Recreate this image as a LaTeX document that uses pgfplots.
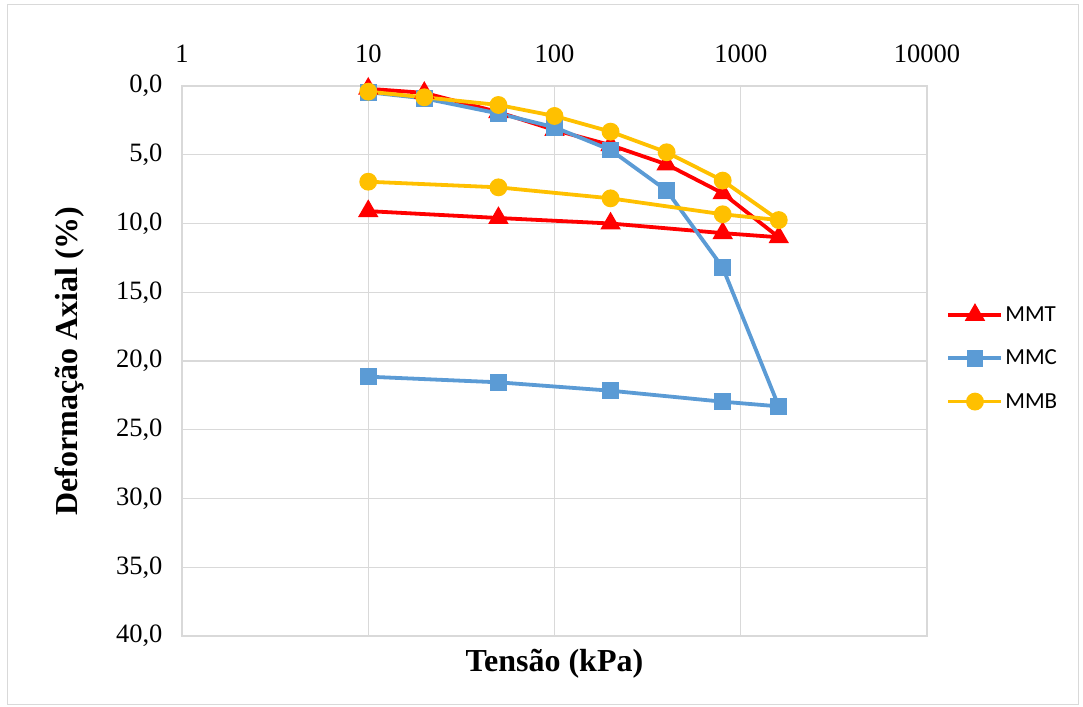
\documentclass[border=0pt]{standalone}
\usepackage{pgfplots}
\pgfplotsset{compat=1.18}
\usepackage{fontspec}
\setmainfont{Liberation Serif}
\newfontfamily\legendfont{Carlito}
\definecolor{cred}{HTML}{FF0000}
\definecolor{cblue}{HTML}{5B9BD5}
\definecolor{cyel}{HTML}{FFC000}
\definecolor{cgrid}{HTML}{D9D9D9}
\begin{document}
\begin{tikzpicture}
\path[use as bounding box] (0,0) rectangle (1083bp,707bp);
\draw[cgrid, line width=1bp] (7bp,2bp) rectangle (1078bp,702bp);
\begin{axis}[
  at={(182bp,71bp)}, anchor=south west,
  width=745bp, height=550bp, scale only axis,
  xmode=log, xmin=1, xmax=10000,
  ymin=0, ymax=40, y dir=reverse,
  xtick={1,10,100,1000,10000},
  xticklabels={1,10,100,1000,10000},
  ytick={0,5,10,15,20,25,30,35,40},
  yticklabels={{0,0},{5,0},{10,0},{15,0},{20,0},{25,0},{30,0},{35,0},{40,0}},
  xticklabel pos=upper,
  xminorticks=false,
  major tick length=0pt, minor tick length=0pt,
  grid=major,
  major grid style={cgrid, line width=1.2bp},
  axis line style={cgrid, line width=1.2bp},
  tick label style={font=\fontsize{26.5bp}{30bp}\selectfont, text=black},
  xticklabel style={anchor=south, yshift=20bp},
  yticklabel style={anchor=east, xshift=-16bp},
  xlabel={\textbf{Tensão (kPa)}},
  ylabel={\textbf{Deformação Axial (\%)}},
  label style={font=\fontsize{32bp}{36bp}\selectfont},
  xlabel style={at={(axis description cs:0.5,-0.05)}, anchor=center},
  ylabel style={at={(axis description cs:-0.151,0.5)}, anchor=center, rotate=0},
  legend style={at={(1.022,0.505)}, anchor=west, draw=none, fill=none,
    font=\legendfont\fontsize{23bp}{27bp}\selectfont, row sep=23bp,
    /tikz/every odd column/.append style={column sep=0bp}},
  legend cell align=left,
  legend image code/.code={\draw[mark repeat=2,mark phase=2] plot coordinates {(0bp,0bp)(26.5bp,0bp)(53bp,0bp)};},
  every axis plot/.append style={line width=3.8bp},
]
\addplot[cred, mark=triangle*, mark size=8bp, mark options={solid}] coordinates {
 (10,0.2) (20,0.5) (50,1.9) (100,3.2) (200,4.3) (400,5.7) (800,7.8) (1600,11.0)
 (800,10.7) (200,10.0) (50,9.6) (10,9.1)};
\addlegendentry{MMT}
\addplot[cblue, mark=square*, mark size=6.5bp, mark options={solid}] coordinates {
 (10,0.45) (20,0.9) (50,2.0) (100,3.0) (200,4.65) (400,7.6) (800,13.2) (1600,23.3)
 (800,22.96) (200,22.16) (50,21.55) (10,21.14)};
\addlegendentry{MMC}
\addplot[cyel, mark=*, mark size=7bp, mark options={solid}] coordinates {
 (10,0.41) (20,0.82) (50,1.38) (100,2.18) (200,3.32) (400,4.82) (800,6.88) (1600,9.75)
 (800,9.33) (200,8.17) (50,7.37) (10,6.96)};
\addlegendentry{MMB}
\end{axis}
\end{tikzpicture}
\end{document}
